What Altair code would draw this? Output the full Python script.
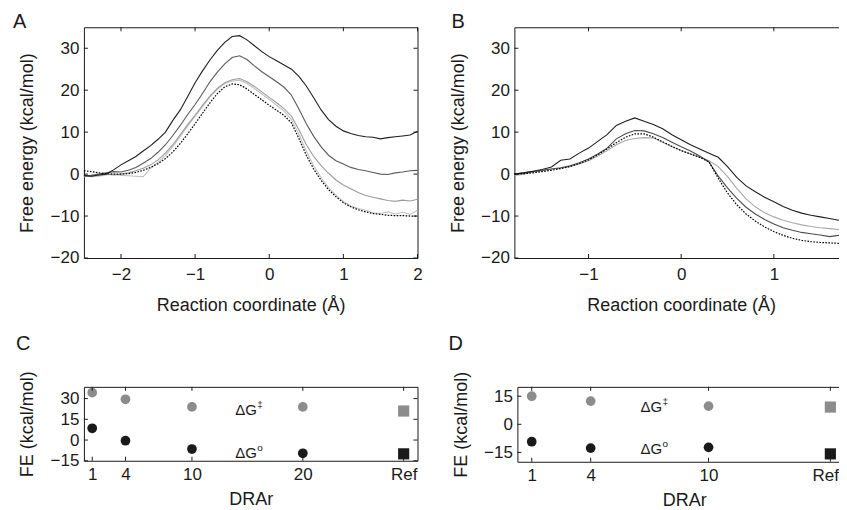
import altair as alt
import pandas as pd

FONT = "Liberation Sans"
INK = "#1a1a1a"
GREY_PT = "#8c8c8c"

# ---------------- Panel A : free-energy profiles ----------------
a_x = [-2.5, -2.4, -2.3, -2.2, -2.1, -2.0, -1.9, -1.8, -1.7, -1.6, -1.5, -1.4, -1.3, -1.2, -1.1,
       -1.0, -0.9, -0.8, -0.7, -0.6, -0.5, -0.4, -0.3, -0.2, -0.1, 0.0, 0.1, 0.2, 0.3, 0.4,
       0.5, 0.6, 0.7, 0.8, 0.9, 1.0, 1.1, 1.2, 1.3, 1.4, 1.5, 1.6, 1.7, 1.8, 1.9, 2.0]
a_dr1 = [-0.3, -0.5, -0.2, 0.0, 1.0, 2.2, 3.2, 4.2, 5.5, 6.8, 8.3, 10.0, 12.8, 15.3, 18.5,
         21.8, 24.6, 27.2, 29.5, 31.4, 32.8, 33.0, 32.0, 30.6, 29.2, 28.0, 27.0, 26.0, 25.0, 23.3,
         21.0, 18.2, 15.3, 13.0, 11.4, 10.3, 9.7, 9.2, 8.9, 8.8, 8.4, 8.7, 8.9, 9.1, 9.3, 10.2]
a_dr4 = [-0.5, -0.3, 0.0, 0.3, 0.6, 0.5, 0.9, 1.6, 2.6, 3.7, 5.2, 7.0, 9.2, 11.6, 14.2,
         16.6, 19.2, 22.0, 24.3, 26.3, 27.8, 28.2, 27.3, 25.8, 24.4, 23.2, 22.0, 20.7, 18.8, 15.5,
         12.0, 9.0, 6.5, 4.5, 3.2, 2.4, 1.6, 1.1, 0.8, 0.4, 0.0, -0.1, 0.3, 0.5, 0.8, 0.9]
a_dr10 = [-0.4, -0.6, -0.3, 0.0, -0.2, 0.0, 0.3, 0.8, 1.4, 2.2, 3.4, 5.0, 7.0, 9.4, 11.8,
          14.0, 16.4, 18.6, 20.4, 21.8, 22.5, 22.8, 22.0, 20.9, 19.6, 18.3, 17.0, 15.6, 13.8, 10.6,
          7.0, 4.2, 2.0, 0.2, -1.4, -2.6, -3.5, -4.4, -5.1, -5.5, -5.9, -6.3, -6.5, -6.2, -6.4, -6.0]
a_dr20 = [-0.6, -0.3, -0.5, -0.2, 0.0, -0.3, -0.4, -0.5, -0.6, 1.4, 2.8, 4.4, 6.6, 9.0, 11.5,
          13.8, 16.1, 18.4, 20.2, 21.6, 22.2, 22.4, 21.6, 20.4, 19.1, 17.8, 16.4, 15.0, 13.0, 9.5,
          5.5, 2.0, -0.8, -3.2, -5.0, -6.5, -7.6, -8.2, -8.6, -9.2, -9.4, -9.0, -9.5, -9.1, -9.6, -8.6]
a_ref = [0.8, 0.6, 0.3, 0.1, 0.0, 0.0, 0.1, 0.4, 0.9, 1.6, 2.5, 3.7, 5.3, 7.3, 9.6,
         12.0, 14.5, 17.0, 19.2, 20.8, 21.5, 21.3, 20.3, 19.0, 17.7, 16.4, 15.2, 14.0, 12.2, 8.5,
         4.5, 1.2, -1.5, -3.7, -5.4, -6.8, -7.8, -8.5, -9.0, -9.4, -9.6, -9.8, -9.9, -9.9, -10.0, -10.0]

# ---------------- Panel B : free-energy profiles ----------------
b_x = [-1.8, -1.7, -1.6, -1.5, -1.4, -1.3, -1.2, -1.1, -1.0, -0.9, -0.8, -0.7, -0.6, -0.5, -0.4,
       -0.3, -0.2, -0.1, 0.0, 0.1, 0.2, 0.3, 0.4, 0.5, 0.6, 0.7, 0.8, 0.9, 1.0, 1.1,
       1.2, 1.3, 1.4, 1.5, 1.6, 1.7, 1.8]
b_dr1 = [0.0, 0.3, 0.7, 1.1, 1.7, 3.3, 3.6, 5.0, 6.2, 7.8, 9.4, 11.6, 12.6, 13.4, 12.6,
         11.8, 10.8, 9.4, 8.2, 7.0, 6.0, 5.0, 4.0, 1.8, -0.8, -2.8, -4.2, -5.5, -6.6, -7.7,
         -8.6, -9.3, -9.8, -10.2, -10.6, -11.0, -11.4]
b_dr4 = [0.0, 0.3, 0.6, 0.9, 1.2, 1.5, 2.0, 2.7, 3.6, 4.8, 6.2, 8.4, 9.6, 10.4, 10.3,
         9.6, 8.7, 7.6, 6.5, 5.5, 4.3, 2.9, -0.5, -3.3, -5.8, -7.9, -9.5, -10.8, -11.9, -12.8,
         -13.4, -13.9, -14.2, -14.5, -14.9, -14.6, -14.4]
b_dr10 = [-0.3, 0.0, 0.5, 0.8, 1.2, 1.4, 1.8, 2.4, 3.2, 4.3, 5.6, 7.0, 8.0, 8.5, 8.7,
          8.6, 7.6, 6.5, 5.6, 4.8, 4.0, 3.2, 1.8, -0.6, -3.4, -5.9, -7.8, -9.2, -10.2, -11.0,
          -11.6, -12.1, -12.5, -12.8, -13.0, -13.2, -13.2]
b_ref = [0.0, 0.1, 0.3, 0.6, 0.9, 1.3, 1.8, 2.5, 3.4, 4.6, 6.0, 7.5, 8.8, 9.6, 9.6,
         8.8, 7.7, 6.6, 5.6, 4.8, 4.0, 2.9, -1.0, -4.5, -7.3, -9.5, -11.2, -12.6, -13.7, -14.6,
         -15.3, -15.8, -16.1, -16.3, -16.4, -16.5, -16.5]

# ---------------- Panels C / D : barrier and reaction free energies ----------------
drar_labels_ref = "Ref"
c_drar = [1, 4, 10, 20]
c_barrier = [34.3, 29.5, 24.0, 24.0]
c_reaction = [8.5, -0.5, -6.5, -9.6]
c_ref_pos = 29.1
c_ref_barrier = 21.0
c_ref_reaction = -10.0

d_drar = [1, 4, 10]
d_barrier = [15.0, 12.4, 9.7]
d_reaction = [-9.3, -12.7, -12.3]
d_ref_pos = 16.2
d_ref_barrier = 9.2
d_ref_reaction = -15.8

# annotation anchors (data coordinates)
c_lab_x = [13.9, 13.9]
c_lab_y = [18.4, -12.8]
d_lab_x = [6.54, 6.54]
d_lab_y = [6.7, -15.9]
lab_main = ["ΔG", "ΔG"]
lab_sup = ["‡", "o"]

# ticks / domains
fe_dom = [-20, 35]
fe_ticks = [-20, -10, 0, 10, 20, 30]
a_xdom = [-2.5, 2.0]
a_xticks = [-2, -1, 0, 1, 2]
b_xdom = [-1.8, 1.8]
b_xticks = [-1, 0, 1]
c_xdom = [0.25, 30.35]
c_ydom = [-15, 38.5]
c_yticks = [-15, 0, 15, 30]
d_xdom = [0.27, 17.25]
d_ydom = [-20, 20]
d_yticks = [-15, 0, 15]

W = 334
H_TOP = 231
TICK_LEN = 4


def lin(dom):
    return alt.Scale(domain=dom, nice=False, zero=False)


def frame_ticks(sx, sy, ax_x, ax_y, xticks, yticks, w, h):
    xt = pd.DataFrame({"x": xticks})
    yt = pd.DataFrame({"y": yticks})
    out = []
    for y0, y1 in [(0, TICK_LEN), (h, h - TICK_LEN)]:
        out.append(alt.Chart(xt).mark_rule(color=INK, strokeWidth=1).encode(
            x=alt.X("x:Q", scale=sx, axis=ax_x), y=alt.value(y0), y2=alt.value(y1)))
    for x0, x1 in [(0, TICK_LEN), (w, w - TICK_LEN)]:
        out.append(alt.Chart(yt).mark_rule(color=INK, strokeWidth=1).encode(
            y=alt.Y("y:Q", scale=sy, axis=ax_y), x=alt.value(x0), x2=alt.value(x1)))
    return out


def letter_mark(letter, lx, ly):
    return alt.Chart(pd.DataFrame({"s": [letter]})).mark_text(
        align="left", baseline="alphabetic", font=FONT, fontSize=20, color=INK,
        x=lx, y=ly).encode(text="s:N")


def yaxis(title, values):
    return alt.Axis(values=values, title=title, ticks=False, domain=False, grid=False,
                    labelPadding=5, titlePadding=13.5, format="d")


def profile_panel(xs, curves, xdom, xticks, letter, lx):
    sx = lin(xdom)
    sy = lin(fe_dom)
    ax_x = alt.Axis(values=xticks, title="Reaction coordinate (Å)", ticks=False, domain=False,
                    grid=False, labelPadding=9, titlePadding=14, labelFlush=False,
                    labelOverlap=False, format="d")
    ax_y = yaxis("Free energy (kcal/mol)", fe_ticks)
    layers = []
    for ys, color, dash, sw in curves:
        df = pd.DataFrame({"x": xs, "y": ys})
        mk = dict(color=color, strokeWidth=sw)
        if dash:
            mk["strokeDash"] = dash
        layers.append(alt.Chart(df).mark_line(**mk).encode(
            x=alt.X("x:Q", scale=sx, axis=ax_x),
            y=alt.Y("y:Q", scale=sy, axis=ax_y),
            order="x:Q"))
    layers += frame_ticks(sx, sy, ax_x, ax_y, xticks, fe_ticks, W, H_TOP)
    layers.append(letter_mark(letter, lx, 1))
    return alt.layer(*layers).properties(width=W, height=H_TOP)


def energy_panel(drar, barrier, reaction, ref_pos, ref_b, ref_r, xdom, ydom, yticks,
                 lab_x, lab_y, letter, lx, h, ref_align="center", ref_offset=0):
    sx = lin(xdom)
    sy = lin(ydom)
    xticks = drar + [ref_pos]
    is_ref = f"datum.value == {ref_pos}"
    ax_x = alt.Axis(values=xticks, title="DRAr", ticks=False, domain=False, grid=False,
                    labelPadding=6, titlePadding=8, labelFlush=False, labelOverlap=False,
                    format="d",
                    labelExpr=f"{is_ref} ? '{drar_labels_ref}' : datum.label",
                    labelAlign={"condition": {"test": is_ref, "value": ref_align},
                                "value": "center"},
                    labelOffset={"condition": {"test": is_ref, "value": ref_offset},
                                 "value": 0})
    ax_y = yaxis("FE (kcal/mol)", yticks)
    pts_b = pd.DataFrame({"x": drar, "y": barrier})
    pts_r = pd.DataFrame({"x": drar, "y": reaction})
    ref_df_b = pd.DataFrame({"x": [ref_pos], "y": [ref_b]})
    ref_df_r = pd.DataFrame({"x": [ref_pos], "y": [ref_r]})
    labs = pd.DataFrame({"x": lab_x, "y": lab_y, "m": lab_main, "s": lab_sup})
    ex = alt.X("x:Q", scale=sx, axis=ax_x)
    ey = alt.Y("y:Q", scale=sy, axis=ax_y)
    layers = [
        alt.Chart(pts_b).mark_circle(size=95, opacity=1, color=GREY_PT).encode(x=ex, y=ey),
        alt.Chart(pts_r).mark_circle(size=95, opacity=1, color=INK).encode(x=ex, y=ey),
        alt.Chart(ref_df_b).mark_square(size=125, opacity=1, color=GREY_PT).encode(x=ex, y=ey),
        alt.Chart(ref_df_r).mark_square(size=125, opacity=1, color=INK).encode(x=ex, y=ey),
        alt.Chart(labs).mark_text(align="left", baseline="alphabetic", font=FONT, fontSize=15,
                                  color=INK).encode(x=ex, y=ey, text="m:N"),
        alt.Chart(labs).mark_text(align="left", baseline="alphabetic", font=FONT, fontSize=10,
                                  color=INK, dx=22, dy=-7).encode(x=ex, y=ey, text="s:N"),
    ]
    layers += frame_ticks(sx, sy, ax_x, ax_y, xticks, yticks, W, h)
    layers.append(letter_mark(letter, lx, -37))
    return alt.layer(*layers).properties(width=W, height=h)


panel_a = profile_panel(
    a_x,
    [(a_dr20, "#c2c2c2", None, 1.1), (a_dr10, "#9c9c9c", None, 1.1),
     (a_dr4, "#5a5a5a", None, 1.1), (a_dr1, "#1f1f1f", None, 1.1),
     (a_ref, "#000000", [1.6, 1.4], 1.2)],
    a_xdom, a_xticks, "A", -71)

panel_b = profile_panel(
    b_x,
    [(b_dr10, "#a8a8a8", None, 1.1), (b_dr4, "#4d4d4d", None, 1.1),
     (b_dr1, "#1f1f1f", None, 1.1), (b_ref, "#000000", [1.6, 1.4], 1.2)],
    b_xdom, b_xticks, "B", -63)

panel_c = energy_panel(c_drar, c_barrier, c_reaction, c_ref_pos, c_ref_barrier, c_ref_reaction,
                       c_xdom, c_ydom, c_yticks, c_lab_x, c_lab_y, "C", -68, 74)
panel_d = energy_panel(d_drar, d_barrier, d_reaction, d_ref_pos, d_ref_barrier, d_ref_reaction,
                       d_xdom, d_ydom, d_yticks, d_lab_x, d_lab_y, "D", -69, 75,
                       ref_align="right", ref_offset=8)

chart = alt.vconcat(
    alt.hconcat(panel_a, panel_b, spacing=25),
    alt.hconcat(panel_c, panel_d, spacing=29),
    spacing=17,
).properties(
    padding={"left": 4, "top": 3, "right": -13, "bottom": 0},
    background="white",
).configure_view(
    stroke=INK, strokeWidth=1
).configure_axis(
    labelFont=FONT, titleFont=FONT, labelFontSize=17, titleFontSize=18,
    titleFontWeight="normal", labelColor=INK, titleColor=INK
)

chart.save("out.html", embed_options={"renderer": "svg", "actions": False})
